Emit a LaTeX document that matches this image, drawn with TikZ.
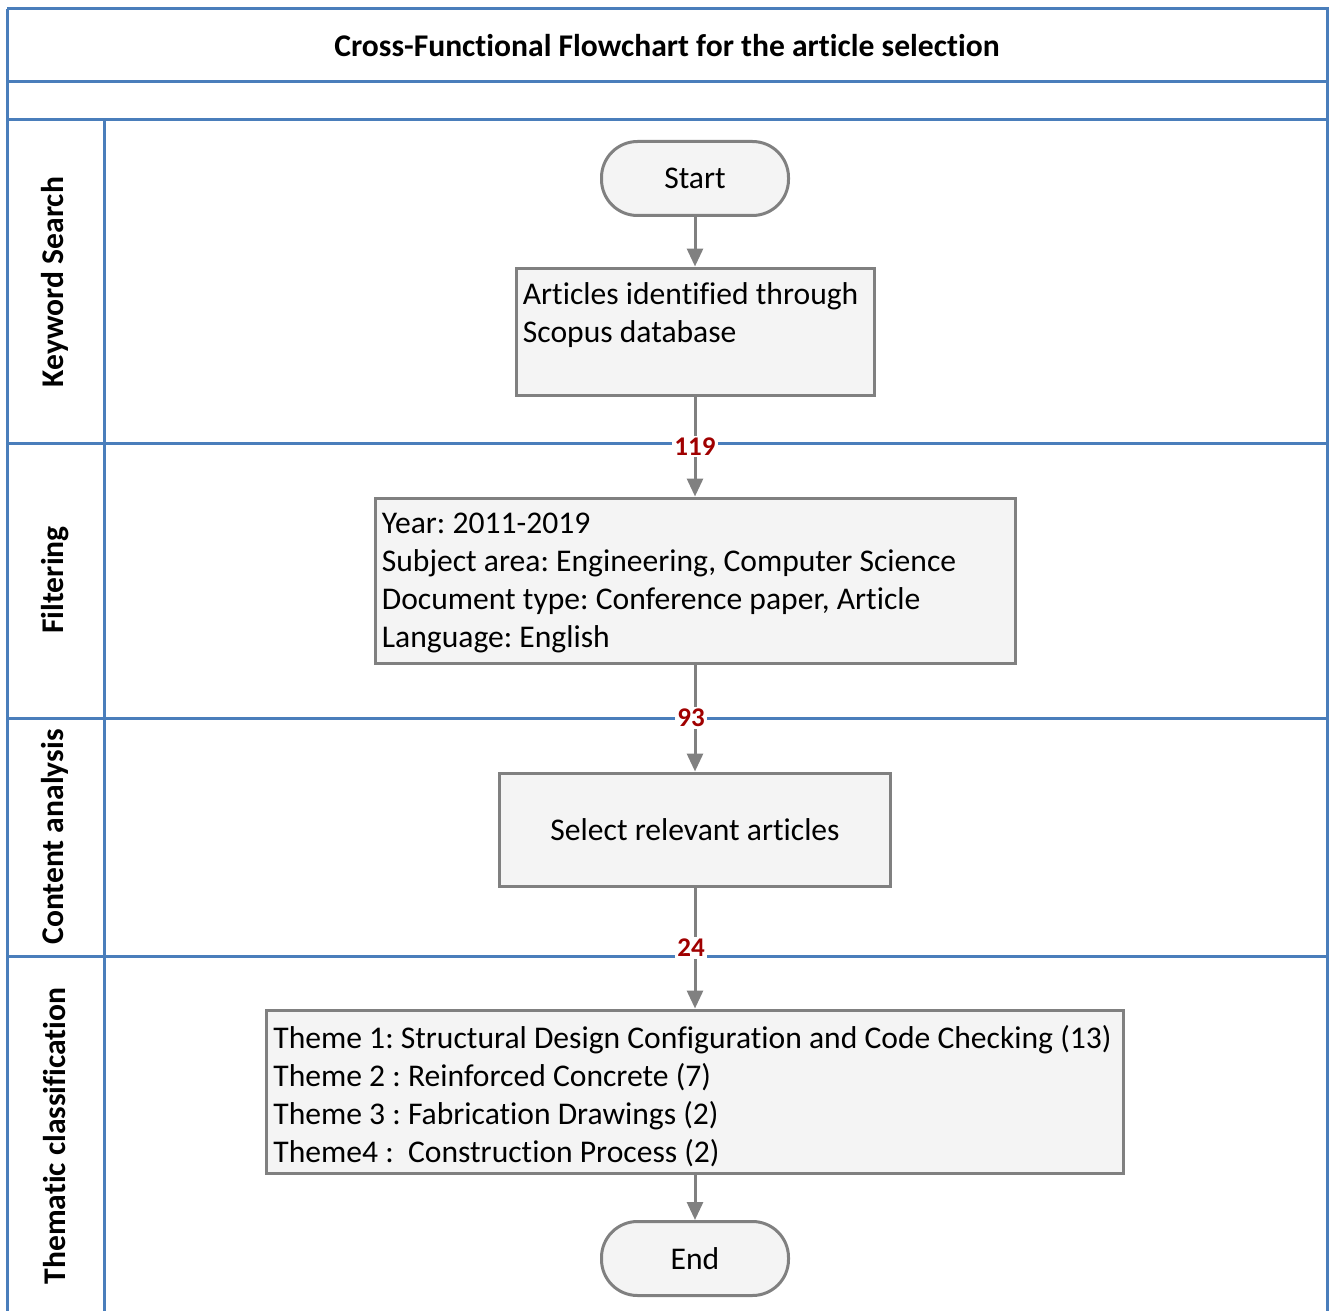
\documentclass[tikz,border=0pt]{standalone}
\usepackage{fontspec}
\setmainfont{Carlito}[Ligatures=CommonOff]
\usetikzlibrary{arrows.meta,positioning}
\definecolor{laneblue}{RGB}{74,126,187}
\definecolor{boxgray}{RGB}{128,128,128}
\definecolor{boxfill}{RGB}{244,244,244}
\definecolor{countred}{RGB}{160,0,0}
\newcommand\bodyfont{\fontsize{15.8}{19}\selectfont}
\frenchspacing

\begin{document}
\begin{tikzpicture}
	[x=0.5pt,y=-0.5pt,->,>={Triangle[length=9pt,width=8pt]},
		lane line/.style={-,draw=laneblue,line width=1.5pt},
		lane label/.style={rotate=90,font=\fontsize{15.8}{19}\selectfont\bfseries},
		term node/.style={draw=boxgray,fill=boxfill,line width=1.5pt,rounded corners=18pt,minimum width=93.5pt,minimum height=37pt,font=\bodyfont},
		proc node/.style={draw=boxgray,fill=boxfill,line width=1.5pt,inner sep=0pt},
		proc text/.style={anchor=north west,align=left,inner xsep=4pt,inner ysep=8pt,font=\bodyfont},
		flow/.style={draw=boxgray,line width=1.5pt},
		count/.style={fill=white,text=countred,inner sep=1pt,font=\fontsize{13.5}{15}\selectfont\bfseries}]

	\useasboundingbox (0,0) rectangle (1329,1311);
	\clip (0,0) rectangle (1329,1311);

	% swimlanes
	\draw[lane line] (7,9) -- (1327,9) -- (1327,1330);
	\draw[lane line] (7,9) -- (7,1330);
	\draw[lane line] (104,120) -- (104,1330);
	\foreach \y in {82,120,443,718,956}
		\draw[lane line] (7,\y) -- (1327,\y);

	\node[font=\fontsize{15.8}{19}\selectfont\bfseries] (title) at (667,46) {Cross-Functional Flowchart for the article selection};
	\node[lane label] (keyword) at (55,282) {Keyword Search};
	\node[lane label] (filtering) at (55,580) {Filtering};
	\node[lane label] (content) at (55,837) {Content analysis};
	\node[lane label] (thematic) at (55,1136) {Thematic classification};

	% flow
	\node[term node] (start) at (695,178.5) {Start};
	\node[proc node, minimum width=179pt, minimum height=63.5pt] (scopus) at (695,331.5) {};
	\node[proc text] (scopustext) at (scopus.north west) {Articles identified through\\Scopus database};
	\node[proc node, minimum width=320pt, minimum height=82.5pt] (filter) at (695,580.5) {};
	\node[proc text] (filtertext) at (filter.north west) {Year: 2011-2019\\Subject area: Engineering, Computer Science\\Document type: Conference paper, Article\\Language: English};
	\node[proc node, minimum width=195.5pt, minimum height=56.5pt, font=\bodyfont] (select) at (695,829.5) {Select relevant articles};
	\node[proc node, minimum width=428.5pt, minimum height=81.5pt] (themes) at (695,1091.5) {};
	\node[proc text] (themestext) at (themes.north west) {Theme 1: Structural Design Configuration and Code Checking (13)\\Theme 2 : Reinforced Concrete (7)\\Theme 3 : Fabrication Drawings (2)\\Theme4 :\ \ Construction Process (2)};
	\node[term node] (end) at (695,1258.5) {End};

	\path[]
	(start) edge [flow] (scopus)
	(scopus) edge [flow] node [count] {119} (filter)
	(filter) edge [flow] node [count, xshift=-2pt] {93} (select)
	(select) edge [flow] node [count, xshift=-2pt] {24} (themes)
	(themes) edge [flow] (end)
	;

\end{tikzpicture}
\end{document}
